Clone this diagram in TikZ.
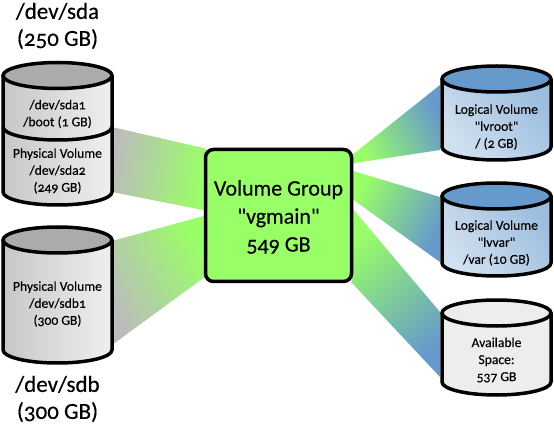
\documentclass[tikz,border=0pt]{standalone}
\usepackage{fontspec}
\setmainfont{Carlito}[Numbers=OldStyle, FakeBold=0.3]
\usetikzlibrary{positioning, calc, backgrounds}

\definecolor{vgreen}{HTML}{99FF66}
\definecolor{lgrey}{HTML}{BCBCBC}
\definecolor{lblue}{HTML}{6699CC}

% one disk: body node, style of the side, colour of the lid
\newcommand{\drum}[3]{
  \draw[drumline, #2] (#1.north west) -- (#1.south west)
    arc[start angle=180, end angle=360, x radius=54.5pt, y radius=13pt]
    -- (#1.north east) -- cycle;
  \draw[drumline, fill=#3] (#1.north) ellipse [x radius=54.5pt, y radius=13pt];
}

\begin{document}
\begin{tikzpicture}[
  x=1pt, y=-1pt,
  body/.style={rectangle, minimum width=109pt, inner sep=0pt, outer sep=0pt},
  drumline/.style={line width=3.5pt, line join=round},
  greyside/.style={left color=black!22, right color=black!6},
  blueside/.style={top color=lblue!65!white, bottom color=lblue!30!white, shading angle=-50},
  plainside/.style={fill=black!7},
  small/.style={align=center, font=\fontsize{13.6}{17}\selectfont},
  big/.style={align=center, font=\fontsize{23}{27}\selectfont},
  pvlink/.style={top color=vgreen, bottom color=lgrey},
  lvlink/.style={top color=vgreen, bottom color=lblue},
  vgbox/.style={rectangle, draw, line width=3.5pt, rounded corners=8pt, fill=vgreen, inner sep=0pt, outer sep=0pt,
    minimum width=146pt, minimum height=132pt}
]
\useasboundingbox (0,0) rectangle (554,430);

\node (vg) [vgbox] at (278.5,215.5) {};
\node (vgText) [align=center, font=\fontsize{22}{28}\selectfont] at (278.5,217) {Volume Group\\\textquotedbl vgmain\textquotedbl\\549 GB};

\node (sda) [body, minimum height=116.5pt] at (57.5,133.75) {};
\node (sdb) [body, minimum height=110pt] at (57.5,295) {};
\node (lvroot) [body, minimum height=68pt] at (496.5,113) {};
\node (lvvar) [body, minimum height=67pt] at (496.5,229.5) {};
\node (avail) [body, minimum height=69pt] at (496.5,347.5) {};
\coordinate (sdaL) at (3,127);
\coordinate (sdaR) at (112,127);

% links go under the box
\begin{scope}[on background layer]
\shade[pvlink, shading angle=-100] (sdaR) -- ($(vg.north west)+(0,-1)$) -- ($(vg.west)+(0,-5)$) -- (sda.south east) -- cycle;
\shade[pvlink, shading angle=-63] ($(sdb.north east)+(0,1)$) -- ($(vg.west)+(0,0)$) -- ($(vg.south west)+(0,-5)$) -- ($(sdb.south east)+(0,-5)$) -- cycle;
\shade[lvlink, shading angle=116] ($(vg.north east)+(0,6)$) -- ($(lvroot.north west)+(-2,6)$) -- ($(lvroot.south west)+(-2,3)$) -- ($(vg.north east)+(0,14)$) -- cycle;
\shade[lvlink, shading angle=62] ($(vg.north east)+(0,21)$) -- ($(lvvar.north west)+(-2,1)$) -- ($(lvvar.south west)+(-2,-1)$) -- ($(vg.north east)+(0,49)$) -- cycle;
\shade[lvlink, shading angle=41] ($(vg.north east)+(0,58)$) -- ($(avail.north west)+(-2,-1)$) -- ($(avail.south west)+(-2,-5)$) -- ($(vg.south east)+(0,1)$) -- cycle;
\end{scope}

\drum{sda}{greyside}{black!33}
\draw[drumline] (sdaL) arc[start angle=180, end angle=360, x radius=54.5pt, y radius=13pt];
\drum{sdb}{greyside}{black!33}
\drum{lvroot}{blueside}{lblue}
\drum{lvvar}{blueside}{lblue}
\drum{avail}{plainside}{black!7}

\node (sdaName) [big] at (57.5,26) {/dev/sda\\(250 GB)};
\node (sdbName) [big] at (57.5,399) {/dev/sdb\\(300 GB)};
\node (sda1) [small] at (57.5,114) {/dev/sda1\\/boot (1 GB)};
\node (sda2) [small] at (57.5,171) {Physical Volume\\/dev/sda2\\(249 GB)};
\node (sdb1) [small] at (57.5,304) {Physical Volume\\/dev/sdb1\\(300 GB)};
\node (lvrootText) [small] at (496.5,127) {Logical Volume\\\textquotedbl lvroot\textquotedbl\\/ (2 GB)};
\node (lvvarText) [small] at (496.5,243) {Logical Volume\\\textquotedbl lvvar\textquotedbl\\/var (10 GB)};
\node (availText) [small] at (496.5,360) {Available\\Space:\\537 GB};

\end{tikzpicture}
\end{document}
